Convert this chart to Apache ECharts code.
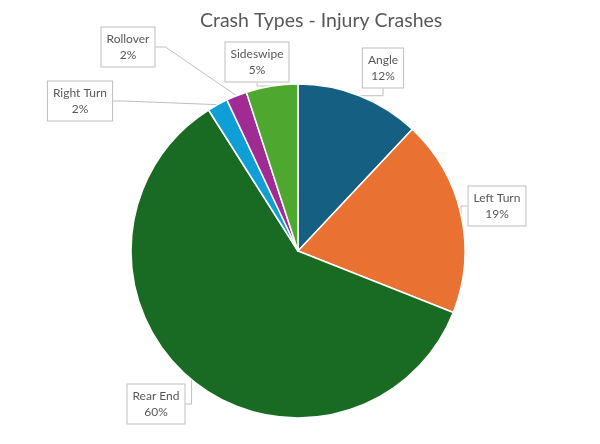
<!DOCTYPE html>
<html>
<head>
<meta charset="utf-8">
<script src="https://cdn.jsdelivr.net/npm/echarts@6/dist/echarts.min.js"></script>
<style>
  html, body { margin: 0; padding: 0; background: #fff; }
  #chart { width: 600px; height: 444px; }
</style>
</head>
<body>
<div id="chart"></div>
<script>
const categories = ['Angle', 'Left Turn', 'Rear End', 'Right Turn', 'Rollover', 'Sideswipe'];
const shares = [12, 19, 60, 2, 2, 5];
const colors = ['#156082', '#e97132', '#196b24', '#0f9ed5', '#a02b93', '#4ea72e'];

// where each callout box sits (pixel centres)
const labelSpots = [[383, 68], [497, 206], [156, 404], [80, 101], [128, 47], [257, 62]];

const chart = echarts.init(document.getElementById('chart'));

chart.setOption({
  animation: false,
  title: {
    text: 'Crash Types - Injury Crashes',
    left: 195,
    top: 6,
    textStyle: { fontFamily: 'Lato', fontSize: 19.5, fontWeight: 'normal', color: '#595959' }
  },
  series: [{
    type: 'pie',
    center: [298, 251],
    radius: 167,
    startAngle: 90,
    clockwise: true,
    data: categories.map((name, i) => ({
      name: name,
      value: shares[i],
      itemStyle: { color: colors[i] }
    })),
    itemStyle: { borderColor: '#fff', borderWidth: 1.5 },
    label: {
      formatter: '{b}\n{c}%',
      fontFamily: 'Lato',
      fontSize: 12,
      lineHeight: 16,
      color: '#595959',
      backgroundColor: '#fff',
      borderColor: '#bfbfbf',
      borderWidth: 1,
      padding: [4, 5, 3, 5],
      align: 'center'
    },
    labelLine: {
      show: true,
      length: 10,
      length2: 10,
      lineStyle: { color: '#bfbfbf', width: 1 }
    },
    labelLayout: function (params) {
      const p = labelSpots[params.dataIndex];
      return { x: p[0], y: p[1], align: 'center', verticalAlign: 'middle' };
    }
  }]
});
</script>
</body>
</html>
